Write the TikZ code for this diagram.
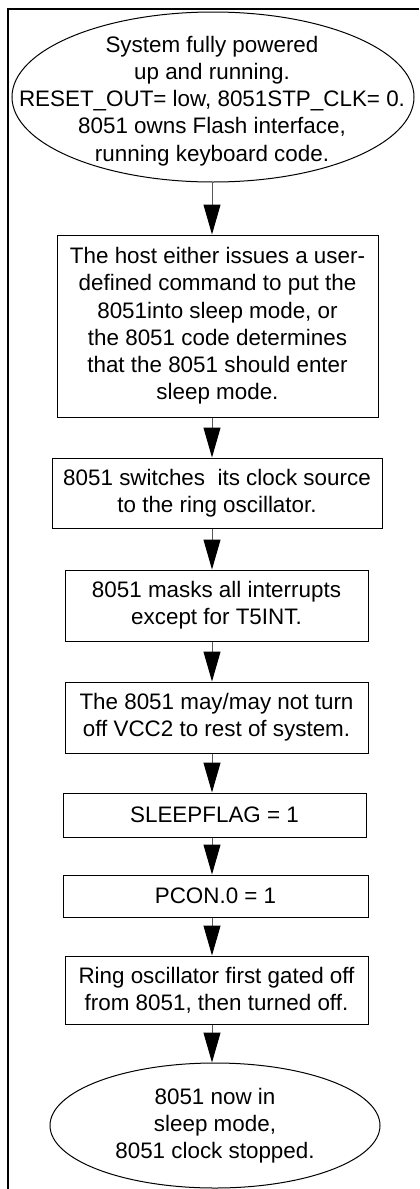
\documentclass[tikz,border=0pt]{standalone}
\usepackage{fontspec}
\setmainfont{Liberation Sans}
\usetikzlibrary{shapes.geometric,arrows.meta}

\begin{document}
\begin{tikzpicture}[x=0.5pt,y=-0.5pt,
        every node/.style={font=\fontsize{11.2pt}{13.6pt}\selectfont, align=center, inner sep=0pt, line width=0.5pt},
        stepbox/.style 2 args={draw, rectangle, minimum width=#1, minimum height=#2},
        endpoint/.style 2 args={draw, ellipse, minimum width=#1, minimum height=#2},
        flow/.style={-{Triangle[length=15pt,width=8.5pt,black]}, draw=black!65, line width=0.5pt}]
        \useasboundingbox (0,0) rectangle (419,1189);

        % Frame on top and left only
        \draw [line width=0.8pt] (419,9) -- (8,9) -- (8,1189);

        % Start state
        \node [endpoint={201pt}{85pt}] (Start) at (213,97) {};
        \node (StartText) at (212,101) {System fully powered\\up and running.\\RESET\_OUT= low, 8051STP\_CLK= 0.\\8051 owns Flash interface,\\running keyboard code.};

        \coordinate (Spine) at (212,0);

        % Steps, each one below the last
        \draw (217.5,326) node [stepbox={160.5pt}{91pt}] (Host) {The host either issues a user-\\defined command to put the\\8051into sleep mode, or\\the 8051 code determines\\that the 8051 should enter\\sleep mode.}
        ++(-0.5,167) node [stepbox={165pt}{35pt}] (Switch) {8051 switches~ its clock source\\to the ring oscillator.}
        ++(-0.5,112.5) node [stepbox={151.5pt}{35.5pt}] (Mask) {8051 masks all interrupts\\except for T5INT.}
        ++(0,112) node [stepbox={151.5pt}{35.5pt}] (Vcc) {The 8051 may/may not turn\\off VCC2 to rest of system.}
        ++(-2,97.5) node [stepbox={151.5pt}{22pt}] (SleepFlag) {SLEEPFLAG = 1}
        ++(1,81) node [stepbox={152.5pt}{21pt}] (Pcon) {PCON.0 = 1}
        ++(1,94) node [stepbox={151.5pt}{34pt}] (RingOff) {Ring oscillator first gated off\\from 8051, then turned off.}
        ++(-1.5,135.5) node [endpoint={165pt}{62.5pt}] (Stop) {8051 now in\\sleep mode,\\8051 clock stopped.};

        \foreach \x[remember=\x as \lastx (initially Start)] in {Host,Switch,Mask,Vcc,SleepFlag,Pcon,RingOff,Stop}
        {
            \draw [flow] (\lastx.south -| Spine) -- (\x.north -| Spine);
        }
    \end{tikzpicture}
\end{document}
